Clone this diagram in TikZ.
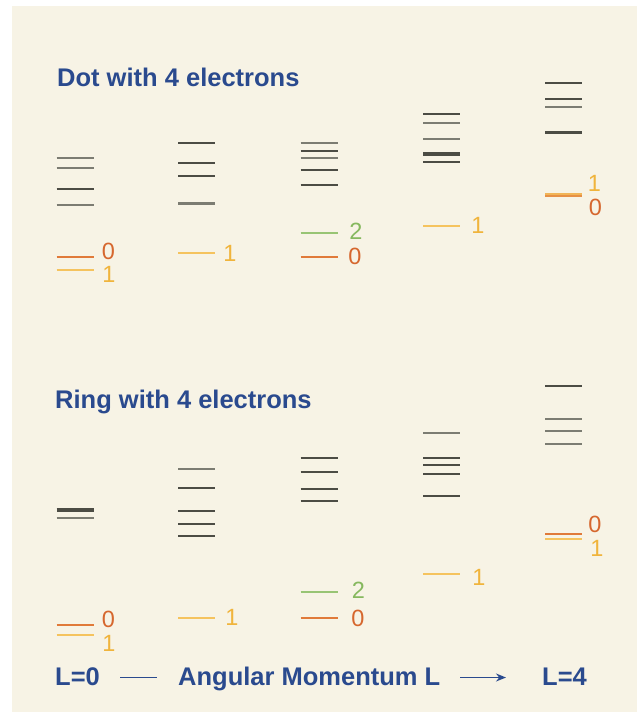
\documentclass[tikz,border=0pt]{standalone}
\usepackage{fontspec}
\setmainfont{Liberation Sans}
\usetikzlibrary{arrows.meta}
\definecolor{bg}{HTML}{F7F3E5}
\definecolor{ttl}{HTML}{2A4A8E}
\definecolor{dk}{HTML}{4C4C44}
\definecolor{md}{HTML}{7C7C72}
\definecolor{org}{HTML}{E07A3A}
\definecolor{orgt}{HTML}{D6672E}
\definecolor{yel}{HTML}{F5C35E}
\definecolor{yelt}{HTML}{F0B43C}
\definecolor{grn}{HTML}{98C474}
\definecolor{grnt}{HTML}{86B85E}
\begin{document}
\begin{tikzpicture}[x=1pt,y=-1pt,
  lv/.style={line width=2pt},
  thk/.style={line width=3.2pt},
  col/.style={line width=1.8pt},
  ttltext/.style={anchor=base west,inner sep=0pt,text=ttl,font=\fontsize{25.5}{30}\selectfont\bfseries},
  qn/.style={anchor=center,inner sep=0pt,font=\fontsize{23.5}{28}\selectfont}]
\useasboundingbox (0,0) rectangle (637,712);
\fill[white] (0,0) rectangle (637,712);
\fill[bg] (12,6) rectangle (637,712);

% titles
\node[ttltext] (dot) at (57,86) {Dot with 4 electrons};
\node[ttltext] (ring) at (55,408) {Ring with 4 electrons};

% ---------- Dot panel ----------
% column 1
\foreach \y/\c in {157.7/md,167.7/md,189.3/dk,205.3/md}
  \draw[lv,\c] (56.5,\y) -- ++(37,0);
\draw[col,org] (56.5,256.7) -- ++(37,0);
\draw[col,yel] (56.5,270) -- ++(37,0);
\node[qn,text=orgt] (d1a) at (108.5,251.5) {0};
\node[qn,text=yelt] (d1b) at (109,274) {1};
% column 2
\foreach \y/\c in {142.7/dk,162.7/dk,176/dk}
  \draw[lv,\c] (178,\y) -- ++(37,0);
\draw[thk,md] (178,203.3) -- ++(37,0);
\draw[col,yel] (178,252.7) -- ++(37,0);
\node[qn,text=yelt] (d2a) at (230,253) {1};
% column 3
\foreach \y/\c in {142.7/md,150.7/dk,158/md,170/dk,185.3/dk}
  \draw[lv,\c] (300.5,\y) -- ++(37,0);
\draw[col,grn] (300.5,233.3) -- ++(37,0);
\draw[col,org] (300.5,256.7) -- ++(37,0);
\node[qn,text=grnt] (d3a) at (356,231) {2};
\node[qn,text=orgt] (d3b) at (355,256) {0};
% column 4
\foreach \y/\c in {114.3/dk,123.3/md,139/md,162.3/dk}
  \draw[lv,\c] (423,\y) -- ++(37,0);
\draw[thk,dk] (423,154) -- ++(37,0);
\draw[col,yel] (423,225.7) -- ++(37,0);
\node[qn,text=yelt] (d4a) at (478,225) {1};
% column 5
\foreach \y/\c in {83.3/dk,99.3/dk,107.3/md}
  \draw[lv,\c] (545,\y) -- ++(37,0);
\draw[thk,dk] (545,132.7) -- ++(37,0);
\draw[line width=2pt,org!70!yel] (545,196) -- ++(37,0);
\draw[line width=2pt,yel!80!org] (545,194) -- ++(37,0);
\node[qn,text=yelt] (d5a) at (594.5,183.5) {1};
\node[qn,text=orgt] (d5b) at (595.5,207.5) {0};

% ---------- Ring panel ----------
% column 1
\draw[thk,dk] (56.5,510) -- ++(37,0);
\draw[lv,md] (56.5,518.3) -- ++(37,0);
\draw[col,org] (56.5,625) -- ++(37,0);
\draw[col,yel] (56.5,635) -- ++(37,0);
\node[qn,text=orgt] (r1a) at (108.5,619) {0};
\node[qn,text=yelt] (r1b) at (109,643) {1};
% column 2
\foreach \y/\c in {469.3/md,487.7/dk,510.7/dk,524/dk,535.7/dk}
  \draw[lv,\c] (178,\y) -- ++(37,0);
\draw[col,yel] (178,617.7) -- ++(37,0);
\node[qn,text=yelt] (r2a) at (232,617.5) {1};
% column 3
\foreach \y/\c in {458.3/dk,472/dk,489/dk,501/dk}
  \draw[lv,\c] (300.5,\y) -- ++(37,0);
\draw[col,grn] (300.5,591.7) -- ++(37,0);
\draw[col,org] (300.5,618) -- ++(37,0);
\node[qn,text=grnt] (r3a) at (358.5,590.5) {2};
\node[qn,text=orgt] (r3b) at (358,618) {0};
% column 4
\foreach \y/\c in {432.7/md,458.3/dk,465/dk,474.3/dk,495.7/dk}
  \draw[lv,\c] (423,\y) -- ++(37,0);
\draw[col,yel] (423,574) -- ++(37,0);
\node[qn,text=yelt] (r4a) at (479,577.5) {1};
% column 5
\foreach \y/\c in {385.7/dk,419/md,431/md,444.3/md}
  \draw[lv,\c] (545,\y) -- ++(37,0);
\draw[col,org] (545,534.3) -- ++(37,0);
\draw[col,yel] (545,538.8) -- ++(37,0);
\node[qn,text=orgt] (r5a) at (595,524) {0};
\node[qn,text=yelt] (r5b) at (597,548) {1};

% ---------- axis ----------
\node[ttltext] (l0) at (55,685) {L=0};
\node[ttltext] (am) at (178,685) {Angular Momentum L};
\node[ttltext] (l4) at (542,685) {L=4};
\coordinate (da) at (120,677.5);
\coordinate (db) at (157,677.5);
\coordinate (ra) at (460,677.5);
\coordinate (rb) at (506,677.5);
\draw[ttl,line width=1.6pt] (da) -- (db);
\draw[ttl,line width=1.6pt,-{Stealth[length=10pt,width=8pt]}] (ra) -- (rb);
\end{tikzpicture}
\end{document}
